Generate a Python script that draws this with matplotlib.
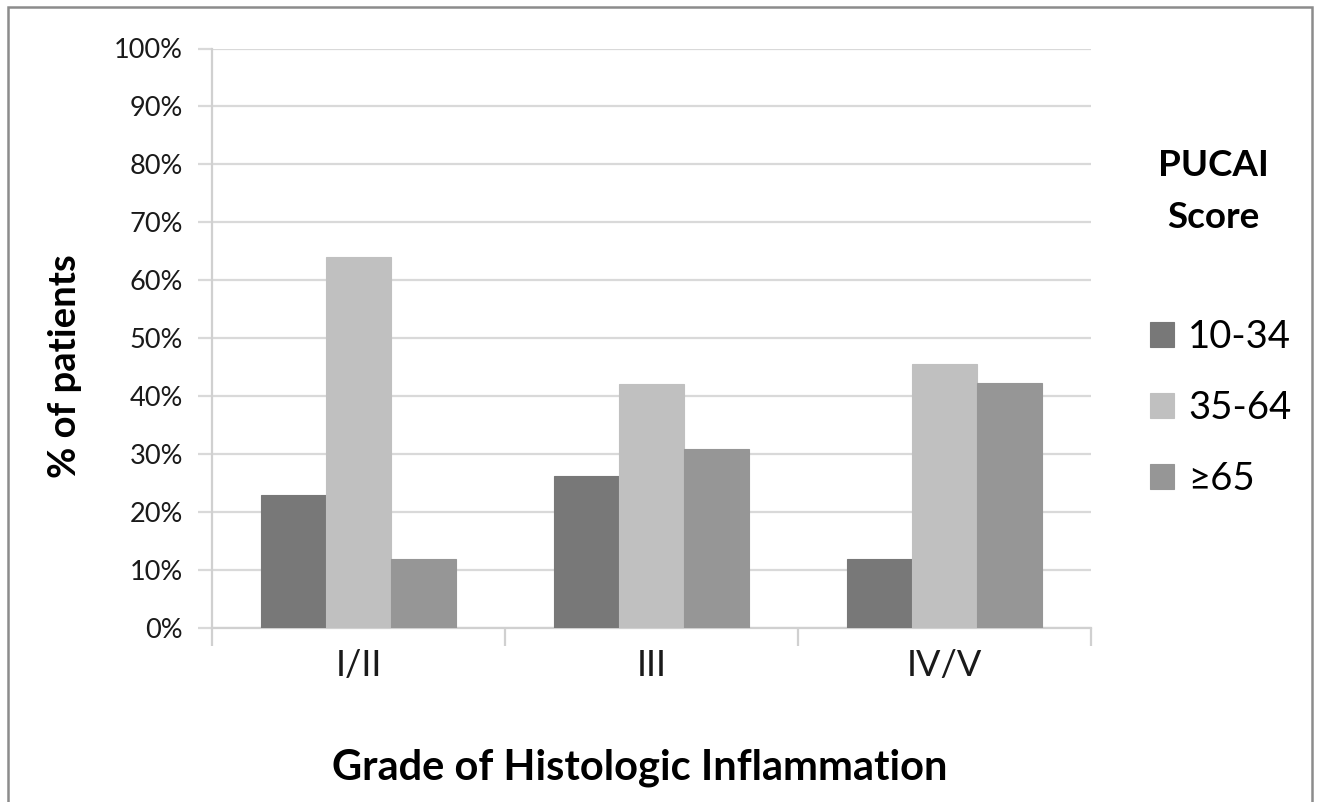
import matplotlib
matplotlib.use("Agg")
import matplotlib.pyplot as plt
import numpy as np
from matplotlib.patches import Rectangle
from matplotlib.ticker import FixedLocator, PercentFormatter

plt.rcParams['font.family'] = ['Lato', 'DejaVu Sans']

categories = ["I/II", "III", "IV/V"]
series_names = ["10-34", "35-64", "\u226565"]
vals_10_34 = [23.0, 26.3, 11.9]
vals_35_64 = [64.0, 42.2, 45.6]
vals_65 = [11.9, 31.0, 42.3]
colors = ["#787878", "#c0c0c0", "#969696"]
yticks = list(range(0, 101, 10))

W, H = 1318, 802
fig = plt.figure(figsize=(W / 100, H / 100), dpi=100)

# outer frame
fig.patches.append(Rectangle((8 / W, -0.01), (1312 - 8) / W, 1 - 7 / H + 0.01,
                             transform=fig.transFigure, fill=False,
                             edgecolor="#8c8c8c", linewidth=1.8))

ax = fig.add_axes([212 / W, 1 - 628.3 / H, (1091 - 212) / W, (628.3 - 48.5) / H])

x = np.arange(len(categories))
bw = 1 / 4.5
for i, (vals, name, c) in enumerate(zip([vals_10_34, vals_35_64, vals_65], series_names, colors)):
    ax.bar(x + (i - 1) * bw, vals, width=bw, color=c, edgecolor=c, linewidth=0.8,
           label=name, zorder=3)

ax.set_xlim(-0.5, 2.5)
ax.set_ylim(0, 100)
ax.set_yticks(yticks)
ax.yaxis.set_major_formatter(PercentFormatter(decimals=0))
ax.grid(axis='y', color="#d9d9d9", linewidth=1.6, zorder=0)
ax.set_axisbelow(True)

for s in ['top', 'right']:
    ax.spines[s].set_visible(False)
ax.spines['left'].set_color("#d0d0d0")
ax.spines['left'].set_linewidth(1.6)
ax.spines['bottom'].set_color("#d0d0d0")
ax.spines['bottom'].set_linewidth(1.6)

ax.tick_params(axis='y', length=10, width=1.6, color="#d9d9d9", labelsize=19.5,
               labelcolor="#1a1a1a", pad=11)
ax.set_xticks(x)
ax.set_xticklabels(categories)
ax.tick_params(axis='x', which='major', length=0, labelsize=26, labelcolor="#1a1a1a", pad=15)
ax.xaxis.set_minor_locator(FixedLocator([-0.5, 0.5, 1.5, 2.5]))
ax.tick_params(axis='x', which='minor', length=13, width=1.6, color="#d0d0d0")

fig.text(65 / W, 1 - 366 / H, "% of patients", fontsize=27.5, fontweight='bold',
         rotation=90, ha='center', va='center')
fig.text(640 / W, 1 - 768 / H, "Grade of Histologic Inflammation", fontsize=30,
         fontweight='bold', ha='center', va='center')

# legend
fig.text(1213 / W, 1 - 165 / H, "PUCAI", fontsize=26.5, fontweight='bold', ha='center', va='center')
fig.text(1213 / W, 1 - 218 / H, "Score", fontsize=26.5, fontweight='bold', ha='center', va='center')
leg = ax.legend(loc='upper left', bbox_to_anchor=(1150 / W, 1 - 319 / H),
                bbox_transform=fig.transFigure, frameon=False, fontsize=27.5,
                handlelength=0.63, handleheight=0.63, handletextpad=0.37,
                labelspacing=0.92, borderaxespad=0, borderpad=0)

fig.savefig("out.png", dpi=100)
